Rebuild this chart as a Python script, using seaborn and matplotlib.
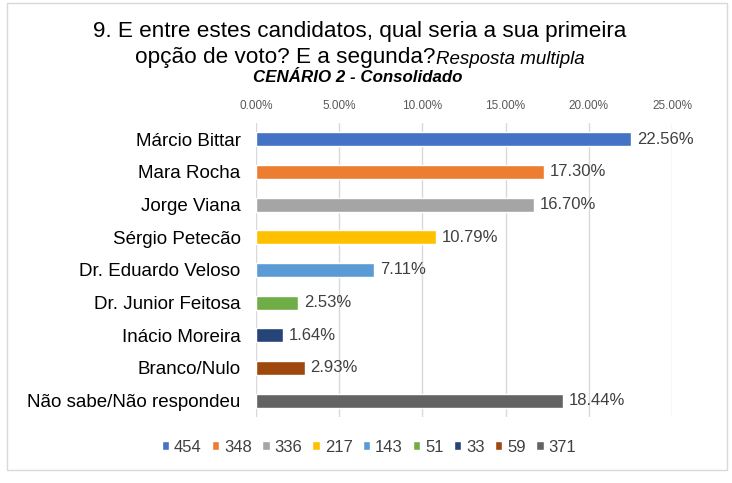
import matplotlib
matplotlib.use("Agg")
import matplotlib.pyplot as plt
import seaborn as sns
import pandas as pd
from matplotlib.patches import Rectangle

# data
candidatos = ["Márcio Bittar", "Mara Rocha", "Jorge Viana", "Sérgio Petecão",
              "Dr. Eduardo Veloso", "Dr. Junior Feitosa", "Inácio Moreira",
              "Branco/Nulo", "Não sabe/Não respondeu"]
percentuais = [22.56, 17.30, 16.70, 10.79, 7.11, 2.53, 1.64, 2.93, 18.44]
contagens = ["454", "348", "336", "217", "143", "51", "33", "59", "371"]
cores = ["#4472C4", "#ED7D31", "#A5A5A5", "#FFC000", "#5B9BD5",
         "#70AD47", "#264478", "#9E480E", "#636363"]
x_ticks = [0, 5, 10, 15, 20, 25]

sns.set_theme(style="white")
plt.rcParams['font.family'] = ['Liberation Sans', 'DejaVu Sans']

df = pd.DataFrame({"cand": candidatos, "pct": percentuais, "n": contagens})

fig = plt.figure(figsize=(7.32, 4.83), dpi=100)
W, H = 732, 483

# outer chart border
fig.patches.append(Rectangle((7 / W, 1 - 470 / H), 720 / W, 467 / H,
                             transform=fig.transFigure, fill=False,
                             edgecolor="#D9D9D9", linewidth=1))

ax = fig.add_axes([256 / W, 1 - 417 / H, 416 / W, 294 / H])
sns.barplot(data=df, y="cand", x="pct", hue="n", palette=cores,
            width=0.43, ax=ax, saturation=1, dodge=False)

ax.set_xlim(0, 25)
ax.set_xticks(x_ticks)
ax.set_xticklabels([f"{t:.2f}%" for t in x_ticks], fontsize=8.5, color="#595959")
ax.xaxis.tick_top()
ax.tick_params(axis="x", length=0, pad=8)
ax.tick_params(axis="y", length=0, pad=11, labelsize=13.5, labelcolor="black")
ax.set_xlabel("")
ax.set_ylabel("")
ax.grid(axis="x", color="#D9D9D9", linewidth=1)
ax.set_axisbelow(True)
for s in ax.spines.values():
    s.set_visible(False)

for i, v in enumerate(percentuais):
    ax.text(v + 0.35, i, f"{v:.2f}%", va="center", ha="left",
            fontsize=12, color="#404040")

handles, labels = ax.get_legend_handles_labels()
ax.legend_.remove()
fig.legend(handles, labels, loc="center", bbox_to_anchor=(369 / W, 1 - 447 / H),
           ncol=9, frameon=False, fontsize=12, handlelength=0.45,
           handleheight=0.45, handletextpad=0.3, columnspacing=0.6,
           labelcolor="#404040")

# titles
fig.text(360 / W, 1 - 31 / H, "9. E entre estes candidatos, qual seria a sua primeira",
         ha="center", va="center", fontsize=16.2, color="black")
t1 = fig.text(0, 1 - 58 / H, "opção de voto? E a segunda?", ha="left",
              va="center", fontsize=16.2, color="black")
t2 = fig.text(0, 1 - 59 / H, "Resposta multipla", ha="left", va="center",
              fontsize=13.5, style="italic", color="black")
r = fig.canvas.get_renderer()
w1 = t1.get_window_extent(r).width
w2 = t2.get_window_extent(r).width
x0 = (W / 2 - 6 - (w1 + w2) / 2)
t1.set_x(x0 / W)
t2.set_x((x0 + w1) / W)
fig.text(358 / W, 1 - 77 / H, "CENÁRIO 2 - Consolidado", ha="center", va="center",
         fontsize=12.2, style="italic", fontweight="bold", color="black")

fig.savefig("out.png", dpi=100)
